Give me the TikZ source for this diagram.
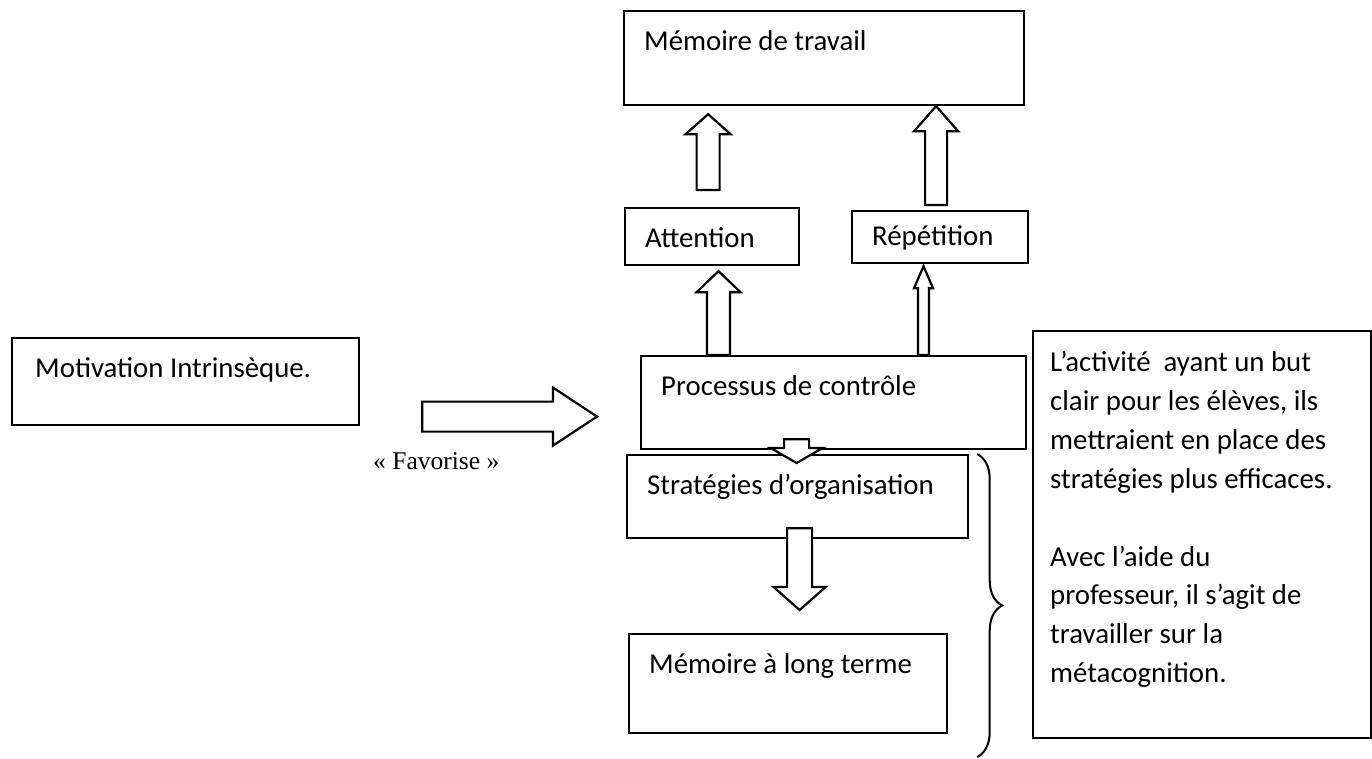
\documentclass[tikz,border=0pt]{standalone}
\usepackage{fontspec}
\setmainfont{Carlito}
\newfontfamily\favfont{Liberation Serif}
\usetikzlibrary{calc,decorations.pathreplacing}

% block arrow: tail, tip, half shaft, half head, head length
\newcommand{\blockarrow}[5]{%
  \coordinate (bh) at ($(#2)!#5!(#1)$);
  \draw [barrow] ($(#1)!#3!90:(#2)$) -- ($(bh)!#3!90:(#2)$) -- ($(bh)!#4!90:(#2)$) -- (#2)
    -- ($(bh)!#4!-90:(#2)$) -- ($(bh)!#3!-90:(#2)$) -- ($(#1)!#3!-90:(#2)$) -- cycle;
}

\begin{document}
\begin{tikzpicture}[x=1pt,y=-1pt,
    wbox/.style={draw, line width=2.2pt, rectangle, anchor=north west, inner sep=0pt},
    wtxt/.style={anchor=base west, inner sep=0pt, xshift=21pt, yshift=-40pt,
      font=\fontsize{28.8}{38.9}\selectfont},
    barrow/.style={draw, line width=2.2pt, fill=white, line join=miter}]
    \useasboundingbox (0,0) rectangle (1372,758);

    % boxes
    \node [wbox, minimum width=400, minimum height=94,
      label={[wtxt, name=memoT]north west:Mémoire de travail}] (memo) at (623,10) {};
    \node [wbox, minimum width=174, minimum height=57,
      label={[wtxt, name=attT]north west:Attention}] (att) at (624,207) {};
    \node [wbox, minimum width=176, minimum height=52,
      label={[wtxt, name=repT, yshift=5pt]north west:Répétition}] (rep) at (851,210) {};
    \node [wbox, minimum width=385, minimum height=93,
      label={[wtxt, name=procT]north west:Processus de contrôle}] (proc) at (640,355) {};
    \node [wbox, minimum width=347, minimum height=87,
      label={[wtxt, name=motivT, xshift=3pt]north west:Motivation Intrinsèque.}] (motiv) at (11,337) {};
    \node [wbox, minimum width=341, minimum height=83,
      label={[wtxt, name=stratT]north west:Stratégies d’organisation}] (strat) at (626,454) {};
    \node [wbox, minimum width=318, minimum height=99,
      label={[wtxt, name=mltT]north west:Mémoire à long terme}] (mlt) at (628,633) {};
    \node [wbox, minimum width=338, minimum height=407] (note) at (1032,330) {};
    \node [wtxt, anchor=north west, xshift=-3pt, yshift=19pt, align=left] (noteT) at (note.north west) {%
      L’activité\ \ ayant un but\\ clair pour les élèves, ils\\ mettraient en place des\\
      stratégies plus efficaces.\\[38.9pt] Avec l’aide du\\ professeur, il s’agit de\\
      travailler sur la\\ métacognition.};

    \node [anchor=base west, inner sep=0pt, font=\favfont\fontsize{25.5}{28}\selectfont] (fav) at (373,469) {« Favorise »};

    % arrows
    \coordinate (ta) at ([shift={(-4,-17)}]att.north);
    \coordinate (tb) at ($(memo.south -| ta)+(0,8)$);
    \blockarrow{ta}{tb}{11.5pt}{22.5pt}{20pt}
    \coordinate (ra) at ([shift={(-4,-5)}]rep.north);
    \coordinate (rb) at (memo.south -| ra);
    \blockarrow{ra}{rb}{11pt}{22pt}{25pt}
    \coordinate (pa) at ([xshift=78.5pt]proc.north west);
    \coordinate (pb) at ($(att.south -| pa)+(0,5)$);
    \blockarrow{pa}{pb}{11.5pt}{22pt}{21pt}
    \coordinate (pc) at ([xshift=283.5pt]proc.north west);
    \coordinate (pd) at ($(rep.south -| pc)+(0,2)$);
    \blockarrow{pc}{pd}{5.5pt}{9.5pt}{22pt}
    \coordinate (ma) at ([shift={(62,35)}]motiv.east);
    \coordinate (mb) at ($(ma -| proc.west)+(-43,0)$);
    \blockarrow{ma}{mb}{15pt}{29pt}{44pt}
    \coordinate (sa) at ([shift={(-37,-11)}]proc.south);
    \coordinate (sb) at ($(strat.north -| sa)+(0,9)$);
    \blockarrow{sa}{sb}{12.5pt}{26pt}{15pt}
    \coordinate (ga) at ([shift={(2,-11)}]strat.south);
    \coordinate (gb) at ($(mlt.north -| ga)+(0,-23)$);
    \blockarrow{ga}{gb}{12.5pt}{26pt}{23pt}

    % brace
    \coordinate (bt) at ([xshift=8pt]strat.north east);
    \coordinate (bb) at (bt |- 0,757);
    \draw [decorate, decoration={brace, amplitude=25pt}, line width=2pt] (bt) -- (bb);
\end{tikzpicture}
\end{document}
